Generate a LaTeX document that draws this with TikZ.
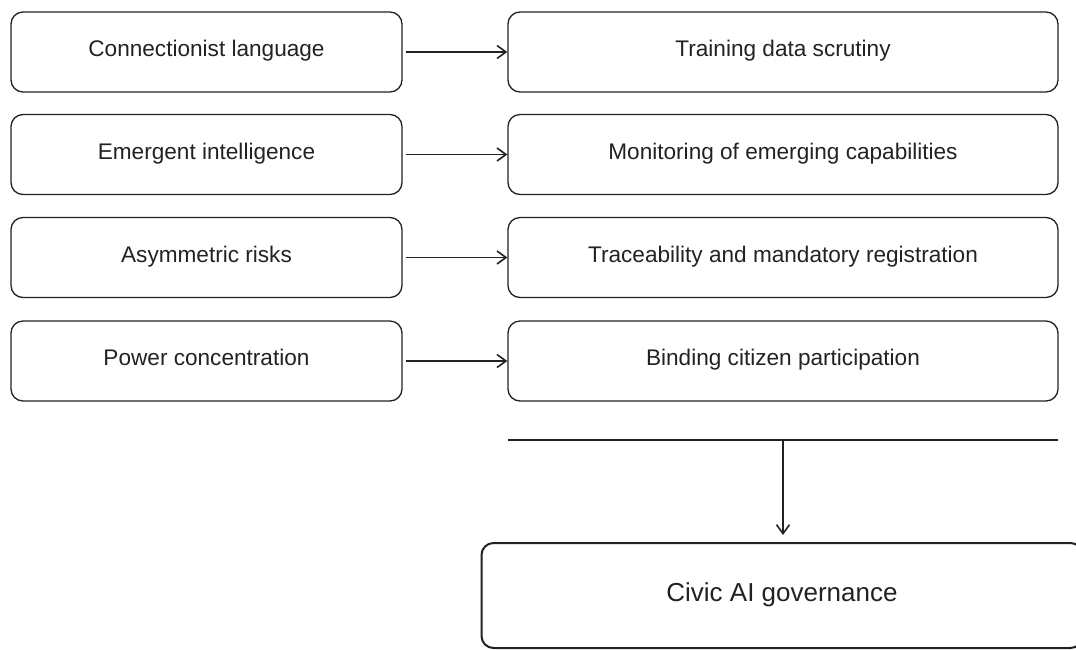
\documentclass[tikz,border=0pt]{standalone}
\usepackage{fontspec}
\setmainfont{Liberation Sans}
\usetikzlibrary{arrows.meta}
\definecolor{ink}{HTML}{222222}
\begin{document}
\begin{tikzpicture}[x=1pt,y=-1pt,
  box/.style={draw=ink, line width=1.3pt, rounded corners=12pt, inner sep=0pt, text=ink, font=\fontsize{22.6}{26}\selectfont},
  lbox/.style={box, minimum width=391pt, minimum height=80pt},
  rbox/.style={box, minimum width=550pt, minimum height=80pt},
  link/.style={draw=ink, line width=1.6pt, -{Straight Barb[length=9pt,width=13pt,line width=1.6pt]}}
]
\useasboundingbox (0,0) rectangle (1076,649);
% left column
\node[lbox] (l1) at (206.5,52)  {\raisebox{7pt}{Connectionist language}};
\node[lbox] (l2) at (206.5,154.5) {\raisebox{7pt}{Emergent intelligence}};
\node[lbox] (l3) at (206.5,257.5) {\raisebox{7pt}{Asymmetric risks}};
\node[lbox] (l4) at (206.5,361) {\raisebox{7pt}{Power concentration}};
% right column
\node[rbox] (r1) at (783,52)  {\raisebox{7pt}{Training data scrutiny}};
\node[rbox] (r2) at (783,154.5) {\raisebox{7pt}{Monitoring of emerging capabilities}};
\node[rbox] (r3) at (783,257.5) {\raisebox{7pt}{Traceability and mandatory registration}};
\node[rbox] (r4) at (783,361) {\raisebox{7pt}{Binding citizen participation}};
% arrows
\foreach \i in {1,2,3,4} {
  \draw[link, shorten <=3pt] (l\i.east) -- (r\i.west);
}
% bar and final box
\coordinate (barL) at (508,440);
\coordinate (barR) at (1058,440);
\coordinate (barM) at (783,440);
\draw[draw=ink, line width=1.3pt] (barL) -- (barR);
\node[box, line width=2pt, minimum width=601pt, minimum height=105pt, font=\fontsize{26}{30}\selectfont] (g) at (782,595.5) {\raisebox{6pt}{Civic AI governance}};
\draw[link, shorten >=7pt] (barM) -- (barM |- g.north);
\end{tikzpicture}
\end{document}
